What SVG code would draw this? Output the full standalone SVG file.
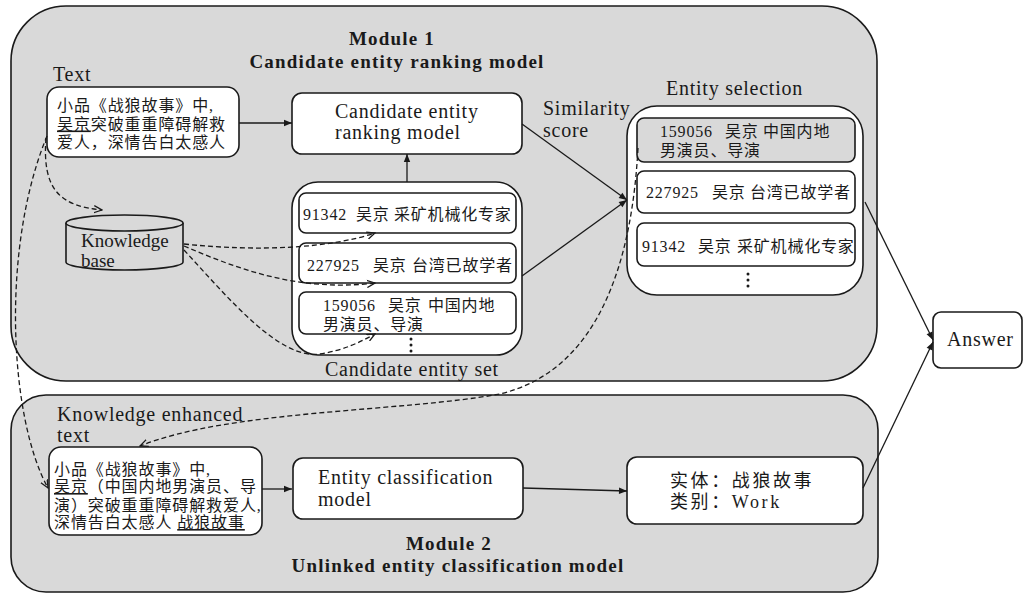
<svg xmlns="http://www.w3.org/2000/svg" width="1027" height="593" viewBox="0 0 1027 593">
  <defs>
    <style>
      .mod { fill: #d9d9d9; stroke: #1a1a1a; stroke-width: 1.6; }
      .box { fill: #ffffff; stroke: #1a1a1a; stroke-width: 1.6; }
      .gbox { fill: #d9d9d9; stroke: #1a1a1a; stroke-width: 1.6; }
      text { fill: #1a1a1a; font-family: "Liberation Serif", "Noto Sans CJK SC", serif; }
      .lbl { font-size: 20px; letter-spacing: 0.75px; }
      .kb { font-size: 19px; }
      .ttl { font-size: 19px; font-weight: bold; letter-spacing: 1.2px; text-anchor: middle; }
      .cn { font-size: 16px; letter-spacing: 0.9px; }
      .ent { font-size: 16px; letter-spacing: 0.8px; }
      .res { font-size: 18px; letter-spacing: 2.6px; }
      .ul { text-decoration: underline; }
      .solid { fill: none; stroke: #1a1a1a; stroke-width: 1.3; marker-end: url(#tri); }
      .dash { fill: none; stroke: #1a1a1a; stroke-width: 1.3; stroke-dasharray: 5 3; marker-end: url(#chev); }
      .dot { fill: #1a1a1a; }
    </style>
    <marker id="tri" viewBox="0 0 10 10" refX="10" refY="5" markerWidth="9" markerHeight="8" markerUnits="userSpaceOnUse" orient="auto">
      <path d="M0,1 L10,5 L0,9 Z" fill="#1a1a1a"/>
    </marker>
    <marker id="chev" viewBox="0 0 10 10" refX="9" refY="5" markerWidth="9" markerHeight="9" markerUnits="userSpaceOnUse" orient="auto">
      <path d="M0,1 L9,5 L0,9" fill="none" stroke="#1a1a1a" stroke-width="1.4"/>
    </marker>
  </defs>

  <!-- Module 1: candidate entity ranking -->
  <g id="module1">
    <rect class="mod" x="11" y="6" width="866" height="375" rx="55" ry="55"/>
    <text class="ttl" x="392" y="45">Module 1</text>
    <text class="ttl" x="397" y="68">Candidate entity ranking model</text>
  </g>

  <!-- Module 2: unlinked entity classification -->
  <g id="module2">
    <rect class="mod" x="11" y="395" width="867" height="197" rx="35" ry="35"/>
    <text class="ttl" x="449" y="550">Module 2</text>
    <text class="ttl" x="458" y="572">Unlinked entity classification model</text>
  </g>

  <g id="text-input">
    <text class="lbl" x="53" y="81">Text</text>
    <rect class="box" x="47" y="87" width="192" height="70" rx="12"/>
    <text class="cn" x="57" y="111">小品《战狼故事》中,</text>
    <text class="cn" x="57" y="129.5"><tspan class="ul">吴京</tspan>突破重重障碍解救</text>
    <text class="cn" x="57" y="147.5">爱人，深情告白太感人</text>
  </g>

  <g id="ranking-model">
    <rect class="box" x="292" y="93" width="230" height="61" rx="10"/>
    <text class="lbl" x="335" y="118">Candidate entity</text>
    <text class="lbl" x="335" y="139">ranking model</text>
  </g>

  <g id="knowledge-base">
    <path class="mod" d="M66,223 L66,262 A58.5,8 0 0 0 183,262 L183,223"/>
    <ellipse class="mod" cx="124.5" cy="223" rx="58.5" ry="8"/>
    <text class="kb" x="81" y="247">Knowledge</text>
    <text class="kb" x="81" y="267">base</text>
  </g>

  <g id="candidate-set">
    <rect class="box" x="292" y="182" width="230" height="173" rx="26"/>
    <rect class="box" x="299" y="193" width="217" height="40" rx="7"/>
    <text class="ent" y="219.5"><tspan x="303">91342</tspan><tspan x="356">吴京</tspan><tspan x="394">采矿机械化专家</tspan></text>
    <rect class="box" x="299" y="243" width="217" height="40" rx="7"/>
    <text class="ent" y="271"><tspan x="307">227925</tspan><tspan x="373">吴京</tspan><tspan x="412">台湾已故学者</tspan></text>
    <rect class="box" x="299" y="292" width="217" height="42" rx="7"/>
    <text class="ent" y="311"><tspan x="323">159056</tspan><tspan x="388">吴京</tspan><tspan x="428">中国内地</tspan></text>
    <text class="ent" x="323" y="330">男演员、导演</text>
    <circle class="dot" cx="411" cy="339" r="1.5"/>
    <circle class="dot" cx="411" cy="345" r="1.5"/>
    <circle class="dot" cx="411" cy="351" r="1.5"/>
    <text class="lbl" x="325" y="376">Candidate entity set</text>
  </g>

  <g id="entity-selection">
    <text class="lbl" x="666" y="95">Entity selection</text>
    <text class="lbl" x="543" y="115">Similarity</text>
    <text class="lbl" x="543" y="137">score</text>
    <rect class="box" x="627" y="106" width="236" height="189" rx="30"/>
    <rect class="gbox" x="637" y="118" width="218" height="44" rx="7"/>
    <text class="ent" y="137"><tspan x="660">159056</tspan><tspan x="725">吴京</tspan><tspan x="763">中国内地</tspan></text>
    <text class="ent" x="660" y="156">男演员、导演</text>
    <rect class="box" x="637" y="171" width="218" height="42" rx="7"/>
    <text class="ent" y="198"><tspan x="646">227925</tspan><tspan x="712">吴京</tspan><tspan x="750">台湾已故学者</tspan></text>
    <rect class="box" x="637" y="223" width="218" height="43" rx="7"/>
    <text class="ent" y="251.5"><tspan x="642">91342</tspan><tspan x="698">吴京</tspan><tspan x="737">采矿机械化专家</tspan></text>
    <circle class="dot" cx="748" cy="274" r="1.5"/>
    <circle class="dot" cx="748" cy="280" r="1.5"/>
    <circle class="dot" cx="748" cy="286" r="1.5"/>
  </g>

  <g id="answer">
    <rect class="box" x="933" y="312" width="89" height="56" rx="8"/>
    <text class="lbl" x="947" y="346">Answer</text>
  </g>

  <g id="enhanced-text">
    <text class="lbl" x="57" y="421">Knowledge enhanced</text>
    <text class="lbl" x="57" y="442">text</text>
    <rect class="box" x="49" y="447" width="213" height="88" rx="12"/>
    <text class="cn" x="54" y="474.5">小品《战狼故事》中,</text>
    <text class="cn" x="54" y="492"><tspan class="ul">吴京</tspan>（中国内地男演员、导</text>
    <text class="cn" x="54" y="510.5">演）突破重重障碍解救爱人,</text>
    <text class="cn" x="54" y="528">深情告白太感人 <tspan class="ul">战狼故事</tspan></text>
  </g>

  <g id="classification-model">
    <rect class="box" x="293" y="458" width="230" height="61" rx="10"/>
    <text class="lbl" x="318" y="484">Entity classification</text>
    <text class="lbl" x="318" y="506">model</text>
  </g>

  <g id="classification-result">
    <rect class="box" x="627" y="457" width="236" height="67" rx="10"/>
    <text class="res" x="670" y="487">实体：战狼故事</text>
    <text class="res" x="670" y="508">类别：Work</text>
  </g>

  <!-- connectors -->
  <g id="connectors">
    <path class="solid" d="M239,123 L292,123"/>
    <path class="solid" d="M407,182 L407,154"/>
    <path class="solid" d="M522,124 L627,200"/>
    <path class="solid" d="M522,276 L627,200"/>
    <path class="solid" d="M865,202 L933,340"/>
    <path class="solid" d="M863,488 L933,342"/>
    <path class="solid" d="M262,489 L292,489"/>
    <path class="solid" d="M523,488 L627,491"/>
    <path class="dash" d="M46,138 C42,190 60,206 102,210"/>
    <path class="dash" d="M47,136 C0,250 10,420 48,488"/>
    <path class="dash" d="M184,244 C260,252 330,248 375,233"/>
    <path class="dash" d="M184,246 C240,270 300,292 375,283"/>
    <path class="dash" d="M184,250 C230,300 280,360 320,354 C345,350 360,342 375,334"/>
    <path class="dash" d="M638,148 C632,260 600,370 500,394 C400,412 230,410 140,446"/>
  </g>
</svg>
